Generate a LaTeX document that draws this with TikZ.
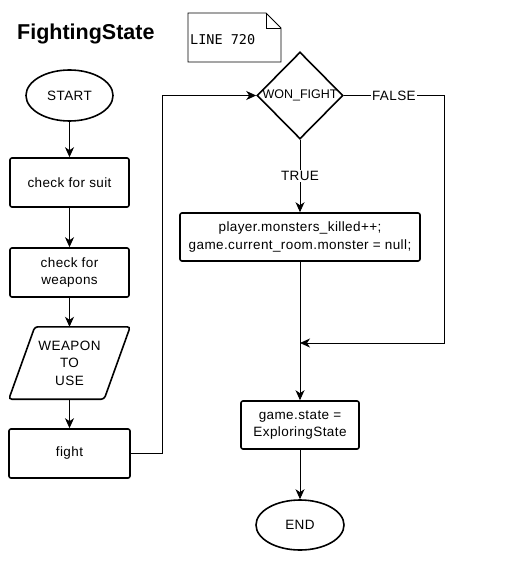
\documentclass[tikz,border=0pt]{standalone}
\usepackage{fontspec}
\setmainfont{Liberation Sans}
\newfontfamily\bodyfont[LetterSpace=3]{Liberation Sans}
\newfontfamily\notefont{DejaVu Sans Mono}
\usetikzlibrary{shapes.geometric,arrows.meta,calc}
\begin{document}
\begin{tikzpicture}[x=1pt,y=-1pt,
  every node/.style={font=\bodyfont\fontsize{13.5}{17.5}\selectfont, inner sep=0pt, align=center},
  boxnode/.style={draw, line width=1.6pt, rounded corners=2pt, rectangle},
  termnode/.style={draw, line width=1.6pt, ellipse},
  conn/.style={line width=0.9pt},
  arr/.style={conn, -{Stealth[length=10pt,width=9pt,inset=3pt]}},
  lbl/.style={fill=white, inner sep=1.5pt}]
\useasboundingbox (0,0) rectangle (512,577);
% title
\node[font=\rmfamily\fontsize{21.5}{24}\selectfont\bfseries, anchor=west] (title) at (17,34) {FightingState};
% note
\node[font=\notefont\fontsize{13.5}{16}\selectfont, anchor=west] (note) at (190,40) {LINE 720};
\draw[line width=0.8pt] (188,13) -- (266,13) -- (281,28) -- (281,62) -- (188,62) -- cycle;
\draw[line width=0.8pt] (266,13) -- (266,28) -- (281,28);
% left column
\node[termnode, minimum width=87, minimum height=51] (start) at (69.5,95.5) {START};
\node[boxnode, minimum width=119, minimum height=49] (suit) at (69.5,182.5) {check for suit};
\node[boxnode, minimum width=119, minimum height=49] (weap) at (69.5,272.5) {check for\\weapons};
\node[minimum width=121, minimum height=72] (use) at (69.5,363) {WEAPON\\TO\\USE};
\draw[line width=1.6pt, rounded corners=3pt]
  ($(use.north west)+(26,0)$) -- (use.north east) -- ($(use.south east)+(-26,0)$) -- (use.south west) -- cycle;
\node[boxnode, minimum width=121, minimum height=49] (fight) at (69.5,453.5) {fight};
% right column
\node[draw, diamond, line width=1.6pt, minimum width=86, minimum height=87] (won) at (300,95.5) {};
\node[font=\rmfamily\fontsize{12.5}{15}\selectfont] (wonlbl) at (won) {WON\_FIGHT};
\node[boxnode, minimum width=240, minimum height=48] (kill) at (300,237)
  {player.monsters\_killed++;\\game.current\_room.monster = null;};
\node[boxnode, minimum width=118, minimum height=48] (state) at (300,425) {game.state =\\ExploringState};
\node[termnode, minimum width=88, minimum height=50] (end) at (300,525) {END};
% coordinates
\coordinate (bend) at (162,95.5);
\coordinate (fr) at (444,95.5);
\coordinate (fb) at (444,343);
\coordinate (join) at (300,343);
% connectors
\draw[arr] (start) -- (suit);
\draw[arr] (suit) -- (weap);
\draw[arr] (weap) -- (use);
\draw[arr] (use) -- (fight);
\draw[arr] (fight.east) -| (bend) -- (won.west);
\draw[arr] (won.south) -- node[lbl]{TRUE} (kill.north);
\draw[arr] (won.east) -- node[lbl]{FALSE} (fr) -- (fb) -- (join);
\draw[arr] (kill.south) -- (state.north);
\draw[arr] (state.south) -- (end.north);
\end{tikzpicture}
\end{document}
